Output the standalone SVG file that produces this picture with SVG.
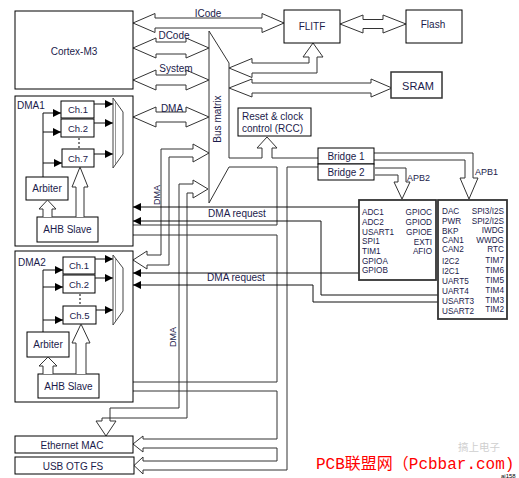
<svg xmlns="http://www.w3.org/2000/svg" width="519" height="478" viewBox="0 0 519 478">
<style>
.box{fill:#fff;stroke:#000;stroke-width:1}
.pbox{fill:#fff;stroke:#333;stroke-width:1.8}
.t{font-family:"Liberation Sans",Arial,sans-serif;font-size:10px;fill:#1b1b4b}
.s{font-size:9.5px}
.p{font-size:8.2px}
.e{text-anchor:end}
.m{text-anchor:middle}
.ho{fill:#fff;stroke:#333;stroke-width:1}
.ch{fill:none;stroke:#333;stroke-width:1}
.ln{fill:none;stroke:#111;stroke-width:1}
.rq{fill:none;stroke:#111;stroke-width:1;marker-end:url(#ah)}
</style>
<defs>
<marker id="ah" viewBox="0 0 8 8" refX="8" refY="4" markerWidth="8" markerHeight="8" markerUnits="userSpaceOnUse" orient="auto"><path d="M0,0 L8,4 L0,8 Z" fill="#000"/></marker>
</defs>
<rect width="519" height="478" fill="#fff"/>
<g id="connectors">
<path class="ho" d="M133,23 L155,13.5 L155,18 L262,18 L262,13.5 L284,23 L262,32.5 L262,28 L155,28 L155,32.5 Z"/>
<text class="t m" x="208" y="17">ICode</text>
<path class="ho" d="M133,48 L156,38 L156,42 L186,42 L186,38 L209,48 L186,58 L186,54 L156,54 L156,58 Z"/>
<text class="t m" x="174" y="39">DCode</text>
<path class="ho" d="M133,80 L156,70 L156,75 L186,75 L186,70 L209,80 L186,90 L186,85 L156,85 L156,90 Z"/>
<text class="t m" x="176" y="72">System</text>
<path class="ho" d="M133,117 L156,107 L156,112 L186,112 L186,107 L209,117 L186,127 L186,122 L156,122 L156,127 Z"/>
<text class="t m" x="172" y="112">DMA</text>
<path class="ho" d="M340,24 L363,15 L363,19.5 L383,19.5 L383,15 L406,24 L383,33 L383,28.5 L363,28.5 L363,33 Z"/>
<path class="ho" d="M229,68 L252,58.5 L252,63 L309,63 L309,57 L303,57 L313,43 L323,57 L317,57 L317,73 L252,73 L252,77.5 Z"/>
<path class="ho" d="M229,88 L252,79 L252,83 L371,83 L371,79 L392,88 L371,97 L371,93 L252,93 L252,97 Z"/>
<path class="ch" d="M209,203 L209,31 L229,63 L229,158 L262,158 L262,148 L257,148 L267,137 L277,148 L272,148 L272,158 L318,158"/>
<path class="ch" d="M209,203 L229,167 L277,167 L277,225 L127,225 L127,221 L99,229.5 L127,238.5 L127,235 L277,235 L277,382 L124,382 L124,378 L101,386.5 L124,395 L124,391 L277,391 L277,439 L143,439 L143,436 L133,444 L143,452 L143,448 L277,448 L277,461 L143,461 L143,457 L134,465.5 L143,474 L143,470 L287,470 L287,167 L318,167"/>
<text class="t" transform="rotate(-90 217 119)" x="217" y="122.5" text-anchor="middle">Bus matrix</text>
<path class="ch" d="M209,153 L193,144 L193,149 L161,149 L161,255 L147,255 L147,251 L133,260 L147,269 L147,265 L169,265 L169,157 L193,157 L193,162 Z"/>
<text class="t" transform="rotate(-90 157 195)" x="157" y="198" text-anchor="middle" style="font-size:9px">DMA</text>
<path class="ch" d="M208,189 L193,180 L193,184 L179,184 L179,408 L110,408 L110,421 L116,421 L106,436 L96,421 L102,421 L102,418 L187,418 L187,193 L193,193 L193,198 Z"/>
<text class="t" transform="rotate(-90 173 337)" x="173" y="340" text-anchor="middle" style="font-size:9px">DMA</text>
<path class="rq" d="M360,207 L133,207"/>
<path class="rq" d="M438,295 L321,295 L321,221 L133,221"/>
<path class="rq" d="M360,273 L133,273"/>
<path class="rq" d="M438,302 L313,302 L313,285 L133,285"/>
<text class="t m" x="237" y="217">DMA request</text>
<text class="t m" x="236" y="281">DMA request</text>
<path class="ho" d="M374,153 L473,153 L473,178 L478,178 L469,199 L460,178 L465,178 L465,160 L374,160"/>
<path class="ho" d="M375,168 L406,168 L406,182 L410,182 L402,199 L394,182 L398,182 L398,175 L375,175"/>
<text class="t" x="475" y="175" style="font-size:9px">APB1</text>
<text class="t" x="407" y="181" style="font-size:9px">APB2</text>
</g>
<g id="cortex">
<rect class="box" x="15" y="11" width="118" height="78"/>
<text class="t m" x="74" y="55">Cortex-M3</text>
</g>
<g id="flitf">
<rect class="box" x="284" y="10" width="56" height="33"/>
<text class="t m" x="312" y="30">FLITF</text>
</g>
<g id="flash">
<rect class="box" x="406" y="10" width="56" height="33"/>
<text class="t m" x="433" y="28">Flash</text>
</g>
<g id="sram">
<rect class="box" x="391" y="72" width="51" height="26" style="stroke:#333;stroke-width:1.5"/>
<text class="t m" x="418" y="90" style="font-size:11px">SRAM</text>
</g>
<g id="rcc">
<rect class="box" x="238" y="108" width="73" height="28"/>
<text class="t" x="242" y="120">Reset &amp; clock</text>
<text class="t" x="242" y="132">control (RCC)</text>
</g>
<g id="bridge1">
<rect class="box" x="318" y="148" width="56" height="16"/>
<text class="t m" x="346" y="160">Bridge  1</text>
</g>
<g id="bridge2">
<rect class="box" x="318" y="164" width="56" height="16"/>
<text class="t m" x="346" y="176">Bridge  2</text>
</g>
<g id="dma1">
<rect class="box" x="15" y="96" width="118" height="150"/>
<text class="t" x="17" y="109">DMA1</text>
<rect class="box" x="61" y="101" width="33" height="17"/>
<text class="t s m" x="78" y="113">Ch.1</text>
<rect class="box" x="61" y="119" width="33" height="18"/>
<text class="t s m" x="78" y="131.5">Ch.2</text>
<rect class="box" x="62" y="149" width="32" height="18"/>
<text class="t s m" x="78" y="161.5">Ch.7</text>
<path d="M79,138 L79,149" stroke="#000" stroke-dasharray="2,2"/>
<path class="ln" d="M43,177 L43,113 L61,113" marker-end="url(#ah)"/>
<path class="ln" d="M43,132 L61,132" marker-end="url(#ah)"/>
<path class="ln" d="M43,163 L62,163" marker-end="url(#ah)"/>
<path class="ln" d="M94,104 L113,104" marker-end="url(#ah)"/>
<path class="ln" d="M94,123 L113,123" marker-end="url(#ah)"/>
<path class="ln" d="M94,154 L113,154" marker-end="url(#ah)"/>
<path d="M113,98 L123,112 L123,154 L113,168 Z" fill="#fff" stroke="#444"/>
<path d="M115.5,102 L115.5,164" stroke="#999"/>
<rect class="box" x="26" y="177" width="42" height="23"/>
<text class="t m" x="47" y="192">Arbiter</text>
<rect class="box" x="37" y="217" width="61" height="25"/>
<text class="t m" x="67.5" y="233">AHB Slave</text>
<path class="ho" d="M43,217 L43,209 L39,209 L47.5,200 L56,209 L52,209 L52,217"/>
<path class="ho" d="M76,217 L76,187 L72,187 L80,167 L88,187 L84,187 L84,217"/>
</g>
<g id="dma2">
<rect class="box" x="15" y="251" width="118" height="151"/>
<text class="t" x="18" y="266">DMA2</text>
<rect class="box" x="63" y="257" width="32" height="17"/>
<text class="t s m" x="79" y="269">Ch.1</text>
<rect class="box" x="63" y="275" width="32" height="18"/>
<text class="t s m" x="79" y="287.5">Ch.2</text>
<rect class="box" x="63" y="306" width="33" height="18"/>
<text class="t s m" x="79.5" y="318.5">Ch.5</text>
<path d="M80,294 L80,306" stroke="#000" stroke-dasharray="2,2"/>
<path class="ln" d="M43,332 L43,270 L63,270" marker-end="url(#ah)"/>
<path class="ln" d="M43,287 L63,287" marker-end="url(#ah)"/>
<path class="ln" d="M43,320 L63,320" marker-end="url(#ah)"/>
<path class="ln" d="M95,259 L113,259" marker-end="url(#ah)"/>
<path class="ln" d="M95,278 L113,278" marker-end="url(#ah)"/>
<path class="ln" d="M96,310 L113,310" marker-end="url(#ah)"/>
<path d="M113,255 L123,268 L123,311 L113,325 Z" fill="#fff" stroke="#444"/>
<path d="M115.5,259 L115.5,321" stroke="#999"/>
<rect class="box" x="27" y="332" width="42" height="25"/>
<text class="t m" x="48" y="348">Arbiter</text>
<rect class="box" x="38" y="374" width="61" height="24"/>
<text class="t m" x="68.5" y="389.5">AHB Slave</text>
<path class="ho" d="M43,374 L43,366 L39,366 L48,357 L57,366 L53,366 L53,374"/>
<path class="ho" d="M76,374 L76,343 L72,343 L81,324 L90,343 L86,343 L86,374"/>
</g>
<g id="ethernet">
<rect class="box" x="15" y="436" width="118" height="17"/>
<text class="t m" x="72" y="448.5">Ethernet MAC</text>
</g>
<g id="usb">
<rect class="box" x="15" y="457" width="119" height="17"/>
<text class="t m" x="73" y="469.5">USB OTG FS</text>
</g>
<g id="apb2">
<rect class="pbox" x="359" y="200" width="77" height="80"/>
<text class="t p" x="362" y="215">ADC1</text>
<text class="t p" x="362" y="225">ADC2</text>
<text class="t p" x="362" y="234.5">USART1</text>
<text class="t p" x="362" y="244">SPI1</text>
<text class="t p" x="362" y="254">TIM1</text>
<text class="t p" x="362" y="264">GPIOA</text>
<text class="t p" x="362" y="273">GPIOB</text>
<text class="t p e" x="432" y="215">GPIOC</text>
<text class="t p e" x="432" y="225">GPIOD</text>
<text class="t p e" x="432" y="235">GPIOE</text>
<text class="t p e" x="432" y="245">EXTI</text>
<text class="t p e" x="432" y="254">AFIO</text>
</g>
<g id="apb1">
<rect class="pbox" x="438" y="200" width="69" height="119"/>
<text class="t p" x="442" y="214">DAC</text>
<text class="t p" x="442" y="224">PWR</text>
<text class="t p" x="442" y="234">BKP</text>
<text class="t p" x="442" y="243">CAN1</text>
<text class="t p" x="442" y="252">CAN2</text>
<text class="t p" x="442" y="264">I2C2</text>
<text class="t p" x="442" y="274">I2C1</text>
<text class="t p" x="442" y="283.5">UART5</text>
<text class="t p" x="442" y="293.5">UART4</text>
<text class="t p" x="442" y="303.5">USART3</text>
<text class="t p" x="442" y="313.5">USART2</text>
<text class="t p e" x="504" y="214">SPI3/I2S</text>
<text class="t p e" x="504" y="224">SPI2/I2S</text>
<text class="t p e" x="504" y="233">IWDG</text>
<text class="t p e" x="504" y="243">WWDG</text>
<text class="t p e" x="504" y="252">RTC</text>
<text class="t p e" x="504" y="263">TIM7</text>
<text class="t p e" x="504" y="273">TIM6</text>
<text class="t p e" x="504" y="283">TIM5</text>
<text class="t p e" x="504" y="293">TIM4</text>
<text class="t p e" x="504" y="303">TIM3</text>
<text class="t p e" x="504" y="312">TIM2</text>
</g>
<g id="watermark">
<text x="458" y="451" font-family="'Noto Sans CJK SC',sans-serif" font-size="10.5" fill="#cfcfcf">搞上电子</text>
<text x="316" y="469" font-family="'Liberation Mono','Noto Sans CJK SC',monospace" font-size="16" fill="#ff0000">PCB联盟网（Pcbbar.com)</text>
<text x="501" y="478" font-family="'Liberation Sans',Arial,sans-serif" font-size="6" fill="#000">ai158</text>
</g>
</svg>
